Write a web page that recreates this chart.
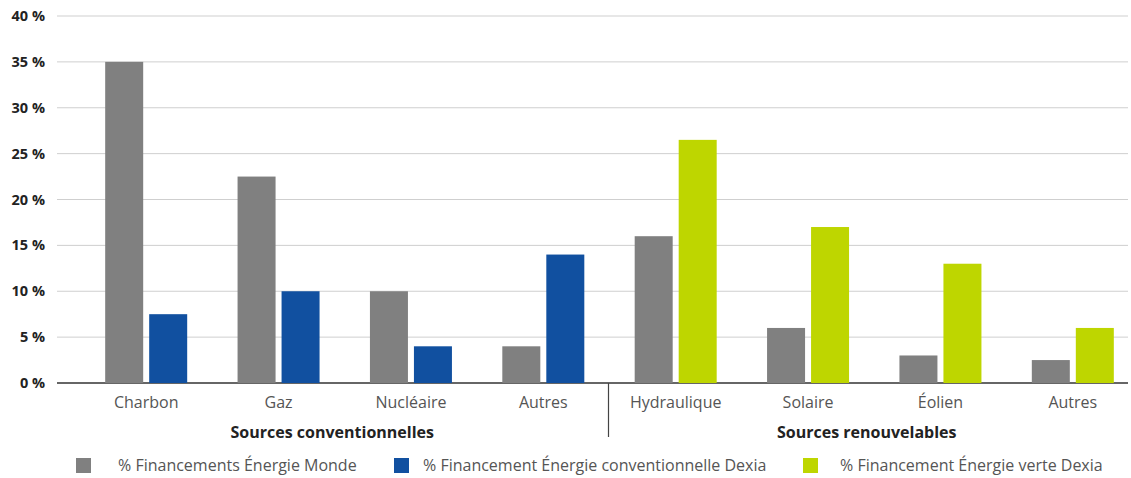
<!DOCTYPE html>
<html>
<head>
<meta charset="utf-8">
<script src="https://cdn.jsdelivr.net/npm/d3@7"></script>
<style>
  body { margin: 0; background: #fff; }
  text { font-family: "Open Sans", "Noto Sans", sans-serif; }
</style>
</head>
<body>
<div id="chart"></div>
<script>
// data
var categories = ['Charbon', 'Gaz', 'Nucléaire', 'Autres', 'Hydraulique', 'Solaire', 'Éolien', 'Autres']
var monde = [35, 22.5, 10, 4, 16, 6, 3, 2.5]
var dexiaConv = [7.5, 10, 4, 14, null, null, null, null]
var dexiaVerte = [null, null, null, null, 26.5, 17, 13, 6]
var yTicks = [0, 5, 10, 15, 20, 25, 30, 35, 40]
var groups = ['Sources conventionnelles', 'Sources renouvelables']
var legendLabels = [
  '% Financements Énergie Monde',
  '% Financement Énergie conventionnelle Dexia',
  '% Financement Énergie verte Dexia'
]

var colors = { monde: '#808080', conv: '#1150a0', verte: '#bed600' }

var width = 1131
var height = 478

var svg = d3
  .select('#chart')
  .append('svg')
  .attr('width', width)
  .attr('height', height)

var plotLeft = 57
var plotRight = 1128

var xBand = d3
  .scaleBand()
  .domain(d3.range(categories.length))
  .range([80, 1139])

let yScale = d3
  .scaleLinear()
  .domain([0, 40])
  .range([383, 16])

// gridlines
svg
  .selectAll('.grid')
  .data(yTicks.filter(d => d > 0))
  .enter()
  .append('line')
  .attr('x1', plotLeft)
  .attr('x2', plotRight)
  .attr('y1', d => yScale(d))
  .attr('y2', d => yScale(d))
  .attr('stroke', '#cfcfcf')
  .attr('stroke-width', 1)

// y labels
svg
  .selectAll('.ylab')
  .data(yTicks)
  .enter()
  .append('text')
  .attr('x', 45)
  .attr('y', d => yScale(d) + 5)
  .attr('text-anchor', 'end')
  .attr('font-size', 14.5)
  .attr('font-weight', 'bold')
  .attr('fill', '#222')
  .text(d => d + ' %')

// baseline
svg
  .append('line')
  .attr('x1', plotLeft)
  .attr('x2', plotRight)
  .attr('y1', yScale(0))
  .attr('y2', yScale(0))
  .attr('stroke', '#333')
  .attr('stroke-width', 1.5)

var barW = 38
var gap = 6

var bars = []
categories.forEach((c, i) => {
  var second = dexiaConv[i] != null ? dexiaConv[i] : dexiaVerte[i]
  var col = dexiaConv[i] != null ? colors.conv : colors.verte
  var cx = xBand(i) + xBand.bandwidth() / 2
  bars.push({ x: cx - gap / 2 - barW, v: monde[i], color: colors.monde })
  bars.push({ x: cx + gap / 2, v: second, color: col })
})

svg
  .selectAll('.bar')
  .data(bars)
  .enter()
  .append('rect')
  .attr('x', d => d.x)
  .attr('width', barW)
  .attr('y', d => yScale(d.v))
  .attr('height', d => yScale(0) - yScale(d.v))
  .attr('fill', d => d.color)

// category labels
svg
  .selectAll('.xlab')
  .data(categories)
  .enter()
  .append('text')
  .attr('x', (d, i) => xBand(i) + xBand.bandwidth() / 2)
  .attr('y', 408)
  .attr('text-anchor', 'middle')
  .attr('font-size', 16)
  .attr('fill', '#555')
  .text(d => d)

// divider
var divX = (xBand(3) + xBand.bandwidth() + xBand(4)) / 2 - 1
svg
  .append('line')
  .attr('x1', divX)
  .attr('x2', divX)
  .attr('y1', yScale(0))
  .attr('y2', 437)
  .attr('stroke', '#444')
  .attr('stroke-width', 1.2)

// group labels
svg
  .selectAll('.glab')
  .data(groups)
  .enter()
  .append('text')
  .attr('x', (d, i) => i === 0 ? (xBand(0) + divX) / 2 - 12 : (divX + xBand(7) + xBand.bandwidth()) / 2 - 7)
  .attr('y', 438)
  .attr('text-anchor', 'middle')
  .attr('font-size', 16)
  .attr('font-weight', 'bold')
  .attr('fill', '#222')
  .text(d => d)

// legend
var legendX = [76, 394, 803]
var legendColors = [colors.monde, colors.conv, colors.verte]
var leg = svg
  .selectAll('.leg')
  .data(legendLabels)
  .enter()
  .append('g')
  .attr('transform', (d, i) => `translate(${legendX[i]},458)`)

leg
  .append('rect')
  .attr('width', 15)
  .attr('height', 15)
  .attr('fill', (d, i) => legendColors[i])

leg
  .append('text')
  .attr('x', (d, i) => [42, 29, 37][i])
  .attr('y', 13)
  .attr('font-size', 16)
  .attr('fill', '#555')
  .text(d => d)
</script>
</body>
</html>
